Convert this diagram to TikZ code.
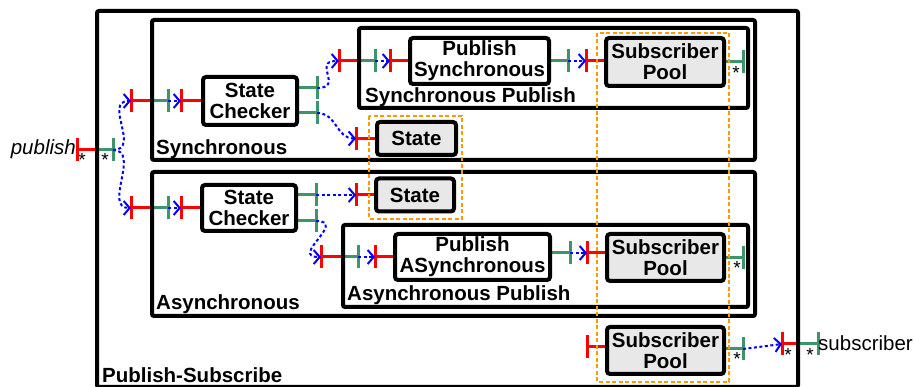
\documentclass[tikz,border=0pt]{standalone}
\usepackage{fontspec}
\setmainfont{Liberation Sans}
\usepackage{xcolor}
\usetikzlibrary{arrows.meta, positioning, calc, backgrounds}

\definecolor{portred}{RGB}{255,0,0}
\definecolor{portgreen}{RGB}{60,150,105}
\definecolor{poolgray}{RGB}{232,232,232}
\definecolor{grouporange}{RGB}{255,153,0}

% port : colour, anchor, offset, name of the bar
\newcommand{\port}[4]{%
  \draw[#1, portline] (#2) -- ++#3 coordinate (#4);
  \draw[#1, portline] (#4) ++(0,-11.5) -- ++(0,23);}

\begin{document}
\begin{tikzpicture}[x=1pt, y=-1pt,
  every node/.style={font=\fontsize{20.5}{21}\selectfont\bfseries, inner sep=0pt},
  frame/.style={draw, line width=4pt, rounded corners=2pt},
  comp/.style={draw, line width=4pt, rounded corners=3pt, align=center, fill=white},
  pool/.style={comp, fill=poolgray},
  portline/.style={line width=3pt},
  flow/.style={blue, line width=2pt, dash pattern=on 3pt off 2.5pt,
               -{Straight Barb[length=6pt, width=14pt]}},
  group/.style={grouporange, line width=2pt, dash pattern=on 4pt off 2.5pt},
  star/.style={font=\fontsize{19}{19}\selectfont, anchor=north},
  plain/.style={font=\fontsize{20.5}{21}\selectfont}]
  \useasboundingbox (0,0) rectangle (914,387);

  % Conteneurs
  \node[frame, minimum width=701, minimum height=376] (pubsub) at (447.5,199) {};
  \node[frame, minimum width=603, minimum height=140] (sync) at (453.5,90) {};
  \node[frame, minimum width=603, minimum height=144] (async) at (453.5,244) {};
  \node[frame, minimum width=389, minimum height=80] (spub) at (553.5,68) {};
  \node[frame, minimum width=405, minimum height=82] (apub) at (545.5,266) {};

  \node[anchor=base west] (pubsubl) at (102,383) {Publish-Subscribe};
  \node[anchor=base west] (syncl) at (156,155) {Synchronous};
  \node[anchor=base west] (asyncl) at (156,310) {Asynchronous};
  \node[anchor=base west] (spubl) at (365,103) {Synchronous Publish};
  \node[anchor=base west] (apubl) at (347,301) {Asynchronous Publish};

  % Composants
  \node[comp, minimum width=94, minimum height=48] (schk1) at (250,101) {State\\Checker};
  \node[comp, minimum width=94, minimum height=46] (schk2) at (249,208) {State\\Checker};
  \node[comp, minimum width=139, minimum height=46] (pubs) at (479.5,61) {Publish\\Synchronous};
  \node[comp, minimum width=155, minimum height=46] (puba) at (472.5,257) {Publish\\ASynchronous};
  \node[pool, minimum width=118, minimum height=48] (pool1) at (665,62) {Subscriber\\Pool};
  \node[pool, minimum width=117, minimum height=47] (pool2) at (665.5,257.5) {Subscriber\\Pool};
  \node[pool, minimum width=117, minimum height=47] (pool3) at (665.5,350.5) {Subscriber\\Pool};
  \node[pool, minimum width=79, minimum height=33] (state1) at (416.5,138.5) {State};
  \node[pool, minimum width=78, minimum height=33] (state2) at (415,195) {State};

  % Ports
  \begin{scope}[on background layer]
    \port{portred}{pubsub.west |- 0,150}{(-18,0)}{pub-r}
    \port{portgreen}{pubsub.west |- 0,150}{(18,0)}{pub-g}
    \port{portred}{sync.west |- schk1}{(-19,0)}{s-r}
    \port{portgreen}{sync.west |- schk1}{(18,0)}{s-g}
    \port{portred}{schk1.west}{(-20,0)}{chk1-r}
    \port{portgreen}{schk1.east |- 0,88}{(18,0)}{chk1-g1}
    \port{portgreen}{schk1.east |- 0,113}{(18,0)}{chk1-g2}
    \port{portred}{spub.west |- 0,61}{(-18,0)}{sp-r}
    \port{portgreen}{spub.west |- 0,61}{(18,0)}{sp-g}
    \port{portred}{pubs.west}{(-18,0)}{pubs-r}
    \port{portgreen}{pubs.east}{(17,0)}{pubs-g}
    \port{portred}{pool1.west |- pubs}{(-18,0)}{pool1-r}
    \port{portgreen}{pool1.east}{(17,0)}{pool1-g}
    \port{portred}{state1.west}{(-19,0)}{st1-r}
    \port{portred}{async.west |- schk2}{(-19,0)}{a-r}
    \port{portgreen}{async.west |- schk2}{(18,0)}{a-g}
    \port{portred}{schk2.west}{(-19,0)}{chk2-r}
    \port{portgreen}{schk2.east |- 0,195}{(18,0)}{chk2-g1}
    \port{portgreen}{schk2.east |- 0,221}{(18,0)}{chk2-g2}
    \port{portred}{state2.west}{(-18,0)}{st2-r}
    \port{portred}{apub.west |- 0,257}{(-20,0)}{ap-r}
    \port{portgreen}{apub.west |- 0,257}{(17,0)}{ap-g}
    \port{portred}{puba.west}{(-18,0)}{puba-r}
    \port{portgreen}{puba.east |- 0,253}{(18,0)}{puba-g}
    \port{portred}{pool2.west |- 0,253}{(-18,0)}{pool2-r}
    \port{portgreen}{pool2.east}{(17,0)}{pool2-g}
    \port{portred}{pool3.west |- 0,347}{(-18,0)}{pool3-r}
    \port{portgreen}{pool3.east |- 0,349}{(17,0)}{pool3-g}
    \port{portred}{pubsub.east |- 0,344}{(-18,0)}{sub-r}
    \port{portgreen}{pubsub.east |- 0,344}{(18,0)}{sub-g}
  \end{scope}

  % Liens
  \draw[flow] (pub-g) .. controls +(28,0) and +(-28,0) .. (s-r);
  \draw[flow] (pub-g) .. controls +(28,0) and +(-28,0) .. (a-r);
  \draw[flow] (s-g) -- (chk1-r);
  \draw[flow] (a-g) -- (chk2-r);
  \draw[flow] (chk1-g1) .. controls +(28,0) and +(-28,0) .. (sp-r);
  \draw[flow] (chk1-g2) .. controls +(20,0) and +(-20,0) .. (st1-r);
  \draw[flow] (sp-g) -- (pubs-r);
  \draw[flow] (pubs-g) -- (pool1-r);
  \draw[flow] (chk2-g1) -- (st2-r);
  \draw[flow] (chk2-g2) .. controls +(32,0) and +(-32,0) .. (ap-r);
  \draw[flow] (ap-g) -- (puba-r);
  \draw[flow] (puba-g) -- (pool2-r);
  \draw[flow] (pool3-g) -- (sub-r);

  % Interfaces externes
  \node[plain, anchor=base east] (publish) at (76,155) {\itshape publish};
  \node[plain, anchor=base west] (subscriber) at (818,351) {subscriber};
  \node[star] (star1) at ($(pub-r)+(5,3)$) {*};
  \node[star] (star2) at ($(pub-g)+(-8,3)$) {*};
  \node[star] (star3) at ($(pool1-g)+(-7,4)$) {*};
  \node[star] (star4) at ($(pool2-g)+(-6,4)$) {*};
  \node[star] (star5) at ($(pool3-g)+(-6,3)$) {*};
  \node[star] (star6) at ($(sub-r)+(6,4)$) {*};
  \node[star] (star7) at ($(sub-g)+(-8,4)$) {*};

  % Regroupements
  \draw[group] (369,116) rectangle (462,219);
  \draw[group] (597,33) rectangle (729,382);
\end{tikzpicture}
\end{document}
